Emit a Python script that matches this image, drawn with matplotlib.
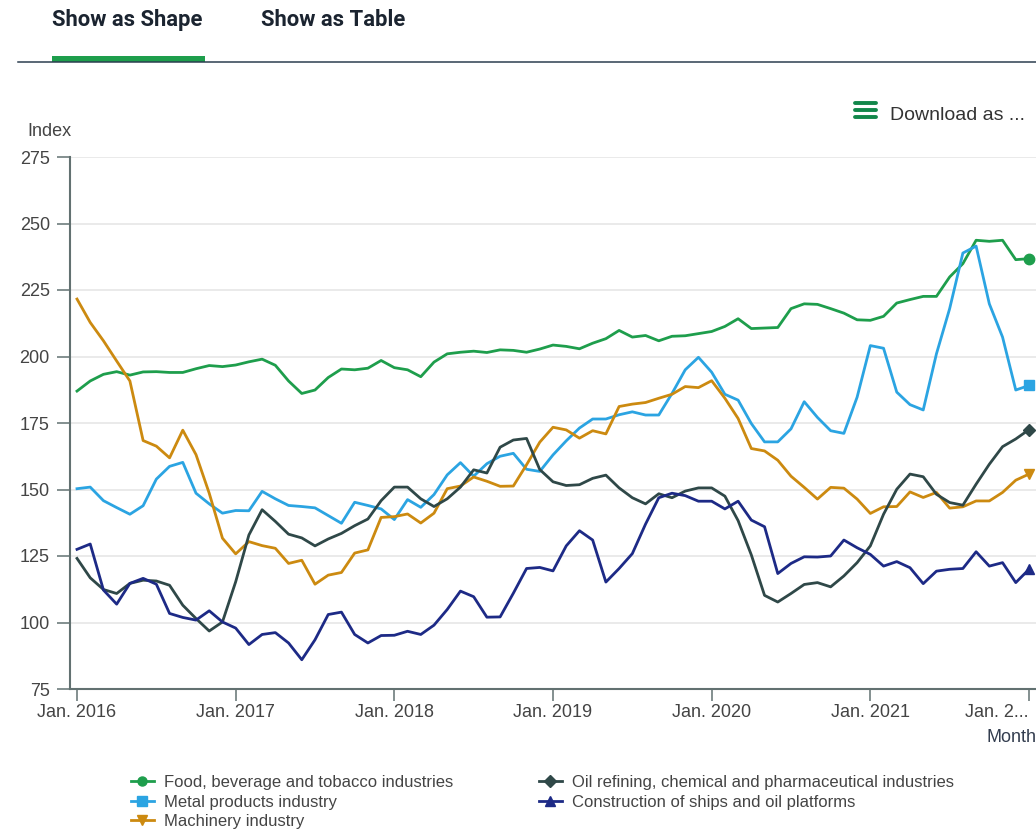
import matplotlib
matplotlib.use("Agg")
import matplotlib.pyplot as plt
from matplotlib.lines import Line2D
from matplotlib.patches import Rectangle

W, H = 1036, 832

# ---- data (index, monthly Jan 2016 - Jan 2022) ----
food = [187.0, 190.8, 193.3, 194.3, 193.0, 194.2, 194.3, 194.0, 194.0, 195.4,
        196.6, 196.2, 196.8, 198.0, 199.0, 196.7, 190.8, 186.1, 187.4, 192.1,
        195.3, 195.0, 195.6, 198.5, 195.8, 195.0, 192.4, 197.9, 201.0, 201.6,
        202.0, 201.5, 202.5, 202.3, 201.6, 202.8, 204.3, 203.8, 202.9, 205.0,
        206.7, 209.8, 207.3, 207.9, 205.9, 207.6, 207.8, 208.6, 209.4, 211.3,
        214.2, 210.5, 210.7, 210.9, 218.0, 219.8, 219.6, 218.0, 216.3, 213.8,
        213.6, 215.1, 220.1, 221.4, 222.6, 222.6, 229.9, 234.9, 243.7, 243.3,
        243.7, 236.4, 236.8]
metal = [150.3, 150.9, 145.8, 143.2, 140.7, 143.9, 153.9, 158.7, 160.2, 148.6,
         144.6, 141.1, 142.1, 142.0, 149.3, 146.5, 144.0, 143.6, 143.1, 140.2,
         137.3, 145.2, 144.0, 142.7, 138.7, 146.2, 143.3, 148.1, 155.5, 160.1,
         155.0, 159.7, 162.5, 163.6, 157.6, 156.8, 163.0, 168.3, 173.1, 176.5,
         176.5, 178.1, 179.2, 178.0, 178.0, 186.1, 195.0, 199.7, 194.1, 185.8,
         183.6, 174.8, 167.9, 167.9, 172.8, 183.0, 177.1, 172.1, 171.1, 184.7,
         204.1, 203.1, 186.6, 181.9, 179.9, 201.0, 218.0, 238.9, 241.5, 219.8,
         207.3, 187.4, 189.1]
machinery = [221.6, 212.8, 205.9, 198.3, 190.8, 168.4, 166.3, 161.9, 172.3, 163.1,
             148.6, 131.7, 125.8, 130.4, 128.9, 127.9, 122.2, 123.4, 114.4, 117.8,
             118.8, 126.1, 127.3, 139.5, 139.8, 140.8, 137.4, 141.1, 150.3, 151.3,
             154.7, 153.1, 151.2, 151.3, 159.3, 167.8, 173.4, 172.4, 169.3, 172.1,
             170.9, 181.2, 182.1, 182.7, 184.3, 185.8, 188.7, 188.3, 190.9, 184.3,
             176.7, 165.4, 164.5, 161.0, 155.0, 150.8, 146.4, 150.8, 150.5, 146.4,
             141.0, 143.5, 143.6, 149.1, 147.0, 148.9, 143.0, 143.5, 145.7, 145.7,
             148.9, 153.5, 155.8]
oil = [124.1, 116.8, 112.4, 110.9, 114.7, 115.9, 115.6, 114.0, 106.5, 101.5,
       96.8, 100.2, 115.3, 132.9, 142.4, 138.0, 133.2, 131.8, 128.8, 131.4,
       133.5, 136.4, 138.9, 145.8, 150.9, 150.9, 146.5, 143.6, 146.5, 150.9,
       157.4, 156.2, 165.9, 168.6, 169.2, 157.5, 152.9, 151.5, 151.8, 154.2,
       155.4, 150.6, 146.9, 144.6, 148.4, 146.9, 149.4, 150.6, 150.6, 147.5,
       138.3, 125.4, 110.2, 107.7, 110.9, 114.3, 115.0, 113.4, 117.5, 122.5,
       128.8, 140.7, 150.1, 155.8, 154.8, 148.2, 145.1, 144.1, 152.0, 159.5,
       166.1, 169.0, 172.5]
ships = [127.5, 129.5, 112.2, 106.9, 114.7, 116.6, 114.4, 103.4, 101.9, 100.9,
         104.4, 100.2, 97.9, 91.7, 95.5, 96.2, 92.3, 86.0, 93.5, 103.0,
         103.9, 95.5, 92.3, 95.1, 95.2, 96.7, 95.5, 99.0, 104.9, 111.8,
         109.7, 102.0, 102.1, 111.0, 120.3, 120.7, 119.4, 128.8, 134.5, 131.0,
         115.2, 120.3, 125.9, 137.0, 146.9, 148.6, 147.7, 145.6, 145.6, 142.7,
         145.6, 138.5, 136.0, 118.4, 122.2, 124.7, 124.6, 125.0, 131.0, 128.1,
         125.6, 121.2, 122.9, 120.6, 114.6, 119.3, 120.0, 120.3, 126.6, 121.2,
         122.5, 115.0, 120.0]

series_names = ["Food, beverage and tobacco industries", "Metal products industry",
                "Machinery industry", "Oil refining, chemical and pharmaceutical industries",
                "Construction of ships and oil platforms"]
series_colors = ["#1e9e4c", "#2ba4e2", "#cc8a10", "#2f4848", "#1d2a86"]
series_markers = ["o", "s", "v", "D", "^"]
x_labels = ["Jan. 2016", "Jan. 2017", "Jan. 2018", "Jan. 2019", "Jan. 2020",
            "Jan. 2021", "Jan. 2..."]
y_ticks = [75, 100, 125, 150, 175, 200, 225, 250, 275]

FONT = "Liberation Sans"
TXT = "#444444"
AXC = "#627171"

fig = plt.figure(figsize=(W / 100, H / 100), dpi=100)

def fx(px):
    return px / W

def fy(py):
    return 1 - py / H

# header tabs
fig.text(fx(52), fy(20), "Show as Shape", family="Roboto", weight="bold",
         fontsize=15.8, color="#1b2430", va="center", ha="left")
fig.text(fx(261), fy(20), "Show as Table", family="Roboto", weight="bold",
         fontsize=15.8, color="#1b2430", va="center", ha="left")
fig.add_artist(Line2D([fx(18), 1], [fy(61.5), fy(61.5)], color="#2c3e50", lw=1.1))
fig.add_artist(Rectangle((fx(52), fy(62)), fx(205) - fx(52), 6 / H,
                         color="#1e9e4c", lw=0))

# download menu
for yy in [103, 110, 117]:
    fig.add_artist(Line2D([fx(855), fx(876)], [fy(yy), fy(yy)], color="#12874a",
                          lw=2.8, solid_capstyle="round"))
fig.text(fx(890), fy(115), "Download as ...", family=FONT, fontsize=14,
         color="#333333", va="center", ha="left")

# chart
ax = fig.add_axes([fx(70), fy(689), 1 - fx(70), (689 - 157) / H])
x = list(range(len(food)))
all_series = [food, metal, machinery, oil, ships]
handles = []
for vals, name, col, mk in zip(all_series, series_names, series_colors, series_markers):
    ln, = ax.plot(x, vals, color=col, lw=2.0, marker=mk, markevery=[len(vals) - 1],
                  markersize=7.5 if mk != "D" else 6, label=name, zorder=3)
    handles.append(ln)

ax.set_xlim(-0.53, 72.53)
ax.set_ylim(75, 275)
ax.set_yticks(y_ticks)
ax.set_xticks(x[::12])
ax.set_xticklabels(x_labels)
ax.get_xticklabels()[-1].set_horizontalalignment("right")
ax.grid(axis="y", color="#e8e8e8", lw=1.3, zorder=0)
for s in ["top", "right"]:
    ax.spines[s].set_visible(False)
for s in ["left", "bottom"]:
    ax.spines[s].set_color(AXC)
    ax.spines[s].set_linewidth(1.5)
ax.tick_params(axis="y", length=9.5, width=1.1, color=AXC, pad=5,
               labelsize=13, labelcolor=TXT)
ax.tick_params(axis="x", length=8.6, width=1.1, color=AXC, pad=2,
               labelsize=13, labelcolor=TXT)
for t in ax.get_xticklabels() + ax.get_yticklabels():
    t.set_family(FONT)

fig.text(fx(27), fy(131), "Index", family=FONT, fontsize=13, color=TXT,
         va="center", ha="left")
fig.text(1, fy(738), "Month", family=FONT, fontsize=13, color="#333d4f",
         va="center", ha="right")

# legend in two columns
leg_kw = dict(frameon=False, prop={"family": FONT, "size": 12}, handlelength=1.35,
              handletextpad=0.6, labelspacing=0.28, borderpad=0, borderaxespad=0,
              labelcolor="#444444")
leg1 = fig.legend(handles[:3], series_names[:3], loc="upper left",
                  bbox_to_anchor=(fx(131), fy(775)), **leg_kw)
leg2 = fig.legend(handles[3:], series_names[3:], loc="upper left",
                  bbox_to_anchor=(fx(539), fy(775)), **leg_kw)
for leg in (leg1, leg2):
    for h in leg.legend_handles:
        h.set_markersize(6.5)

fig.savefig("out.png", dpi=100)
